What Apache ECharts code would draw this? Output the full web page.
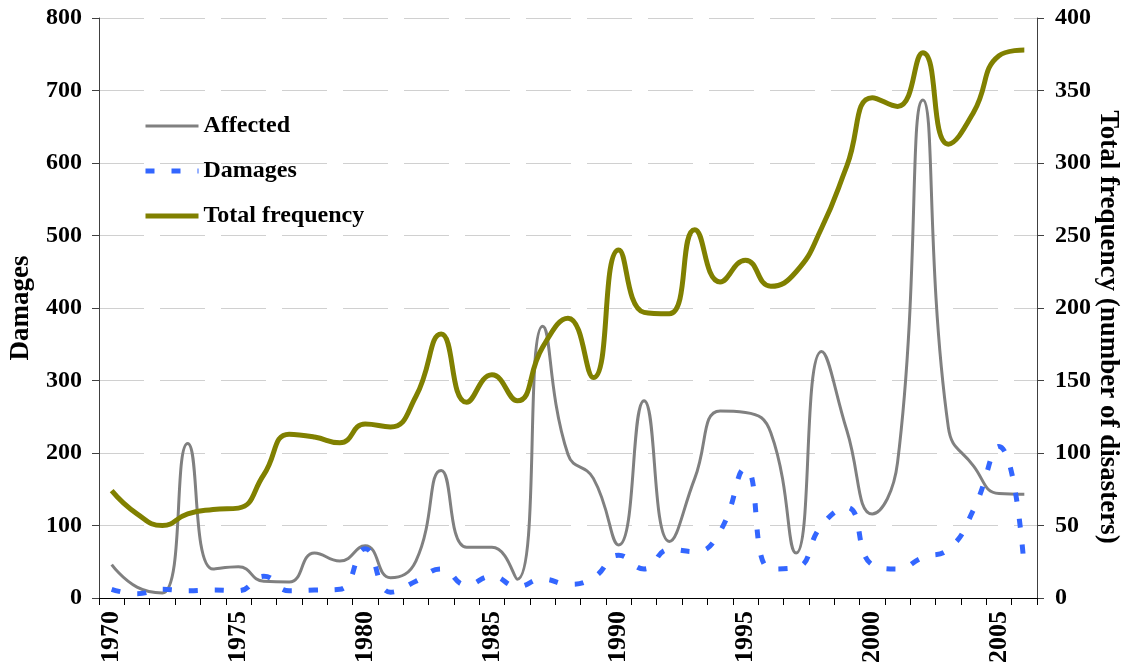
<!DOCTYPE html>
<html>
<head>
<meta charset="utf-8">
<script src="https://cdn.jsdelivr.net/npm/echarts@6/dist/echarts.min.js"></script>
<style>html,body{margin:0;padding:0;background:#fff;}#chart{width:1124px;height:671px;}</style>
</head>
<body>
<div id="chart"></div>
<script>
var years = [];
for (var y = 1970; y <= 2006; y++) years.push(String(y));

var affected = [46,15,7,213,40,43,23,22,62,51,
                72,28,51,176,70,70,26,375,198,165,
                73,272,78,165,258,256,228,62,340,231,
                116,187,687,236,182,144,143];
var damages  = [12,6,12,10,11,10,30,10,11,12,
                68,8,23,40,18,30,16,26,19,28,
                59,40,67,64,92,179,40,42,100,125,
                46,40,56,67,122,209,40];
var totalFrequency = [74,58,50,58,61,62,85,113,111,107,
                      120,118,139,182,135,154,136,173,193,152,
                      240,197,196,254,218,233,215,225,255,298,
                      345,339,376,313,335,374,378];

var FONT = '"Liberation Serif", "Times New Roman", serif';
var chart = echarts.init(document.getElementById('chart'));
chart.setOption({
  animation: false,
  backgroundColor: '#fff',
  grid: {left: 99, right: 87, top: 18, bottom: 73, containLabel: false, outerBoundsMode: 'none'},
  legend: {
    orient: 'vertical', left: 143, top: 114, padding: 0,
    itemWidth: 53, itemHeight: 20, itemGap: 21,
    itemStyle: {opacity: 0},
    textStyle: {fontFamily: FONT, fontSize: 24, fontWeight: 'bold', color: '#000'},
    data: [
      {name: 'Affected', lineStyle: {width: 3}},
      {name: 'Damages', lineStyle: {width: 5}},
      {name: 'Total frequency', lineStyle: {width: 5}}
    ]
  },
  xAxis: {
    type: 'category', data: years, boundaryGap: true,
    axisLine: {lineStyle: {color: '#000', width: 1}},
    axisTick: {show: true, interval: 0, length: 7, lineStyle: {color: '#000'}},
    axisLabel: {interval: 4, rotate: 90, margin: 13, fontFamily: FONT, fontSize: 26, fontWeight: 'bold', color: '#000'},
    splitLine: {show: false}
  },
  yAxis: [{
    type: 'value', min: 0, max: 800, interval: 100,
    name: 'Damages', nameLocation: 'middle', nameGap: 64, nameMoveOverlap: false,
    nameTextStyle: {fontFamily: FONT, fontSize: 27, fontWeight: 'bold', color: '#000'},
    axisLine: {show: true, lineStyle: {color: '#404040'}},
    axisTick: {show: true, length: 7, lineStyle: {color: '#404040'}},
    axisLabel: {margin: 17, fontFamily: FONT, fontSize: 24, fontWeight: 'bold', color: '#000'},
    splitLine: {show: true, lineStyle: {color: '#d0d0d0', width: 1, type: [45, 16]}}
  }, {
    type: 'value', min: 0, max: 400, interval: 50, position: 'right',
    name: 'Total frequency (number of disasters)', nameLocation: 'middle', nameGap: 57, nameRotate: -90, nameMoveOverlap: false,
    nameTextStyle: {fontFamily: FONT, fontSize: 27, fontWeight: 'bold', color: '#000', padding: [0, 0, 0, 38]},
    axisLine: {show: true, lineStyle: {color: '#404040'}},
    axisTick: {show: true, length: 7, lineStyle: {color: '#404040'}},
    axisLabel: {margin: 18, fontFamily: FONT, fontSize: 24, fontWeight: 'bold', color: '#000'},
    splitLine: {show: false}
  }],
  series: [{
    name: 'Affected', type: 'line', yAxisIndex: 0, data: affected,
    smooth: 0.5, symbol: 'none', color: '#808080',
    lineStyle: {color: '#808080', width: 3}
  }, {
    name: 'Damages', type: 'line', yAxisIndex: 0, data: damages,
    smooth: 0.5, symbol: 'none', color: '#3366FF',
    lineStyle: {color: '#3366FF', width: 5, type: [9, 17]}
  }, {
    name: 'Total frequency', type: 'line', yAxisIndex: 1, data: totalFrequency,
    smooth: 0.5, symbol: 'none', color: '#808000',
    lineStyle: {color: '#808000', width: 5}
  }]
});
</script>
</body>
</html>
